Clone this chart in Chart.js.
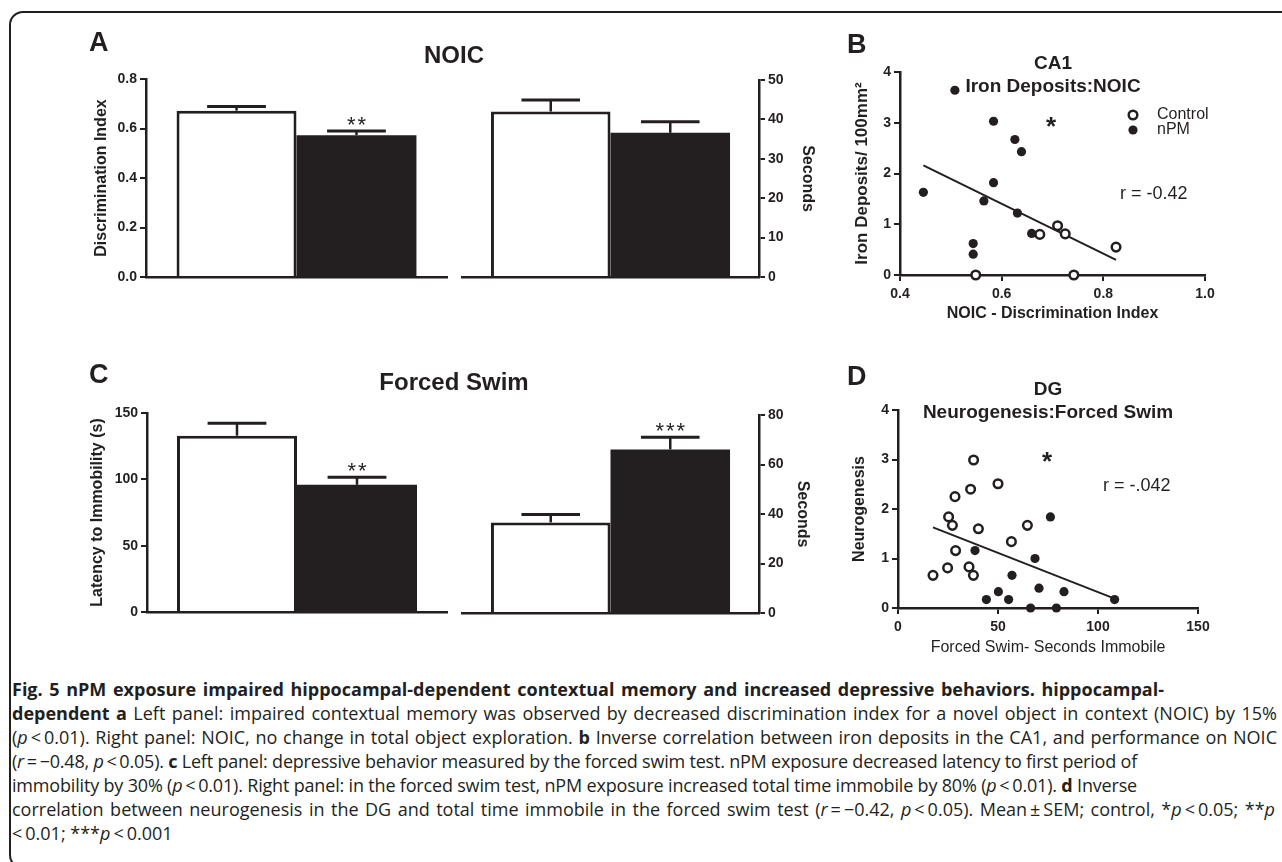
<!DOCTYPE html>
<html><head><meta charset="utf-8">
<script src="https://cdn.jsdelivr.net/npm/chart.js@4.4.1/dist/chart.umd.min.js"></script>
<style>
html,body{margin:0;padding:0;background:#fff;}
#page{position:relative;width:1282px;height:862px;overflow:hidden;font-family:'Liberation Sans',Arial,sans-serif;color:#231f20;}
#frame{position:absolute;left:9px;top:11px;width:1300px;height:858px;border:2.5px solid #231f20;border-radius:14px;box-sizing:border-box;}
canvas{position:absolute;}
.t{position:absolute;transform:translate(-50%,-50%);white-space:nowrap;line-height:1;}
.l{position:absolute;white-space:nowrap;line-height:1;transform:translateY(-50%);}
.b{font-weight:bold;}
.cap{position:absolute;left:12px;white-space:nowrap;font-family:'Open Sans',sans-serif;font-size:18px;line-height:24px;color:#231f20;}
</style></head>
<body><div id="page">
<div id="frame"></div>
<canvas id="cA1" width="430" height="260" style="left:40px;top:40px"></canvas>
<canvas id="cA2" width="400" height="260" style="left:450px;top:40px"></canvas>
<canvas id="cB" width="440" height="290" style="left:820px;top:40px"></canvas>
<canvas id="cC1" width="430" height="262" style="left:40px;top:370px"></canvas>
<canvas id="cC2" width="400" height="262" style="left:450px;top:370px"></canvas>
<canvas id="cD" width="440" height="290" style="left:820px;top:370px"></canvas>

<div class="l b" style="left:89px;top:42px;font-size:27px">A</div>
<div class="t b" style="left:454px;top:55px;font-size:24px">NOIC</div>
<div class="l b" style="left:847px;top:44px;font-size:27px">B</div>
<div class="t b" style="left:1053px;top:62px;font-size:19px">CA1</div>
<div class="t b" style="left:1053px;top:85px;font-size:19px">Iron Deposits:NOIC</div>
<div class="t b" style="left:1051px;top:126px;font-size:26px">*</div>
<div class="l" style="left:1120px;top:193px;font-size:18px">r = -0.42</div>

<div class="l b" style="left:89px;top:374px;font-size:27px">C</div>
<div class="t b" style="left:454px;top:382px;font-size:24px">Forced Swim</div>
<div class="l b" style="left:847px;top:376px;font-size:27px">D</div>
<div class="t b" style="left:1048px;top:388px;font-size:19px">DG</div>
<div class="t b" style="left:1048px;top:411px;font-size:19px">Neurogenesis:Forced Swim</div>
<div class="t b" style="left:1047px;top:461px;font-size:26px">*</div>
<div class="l" style="left:1103px;top:485px;font-size:18px">r = -.042</div>

<div class="cap" data-w="1152" style="top:677px"><b>Fig. 5 nPM exposure impaired hippocampal-dependent contextual memory and increased depressive behaviors. hippocampal-</b></div>
<div class="cap" data-w="1265" style="top:701px"><b>dependent a</b> Left panel: impaired contextual memory was observed by decreased discrimination index for a novel object in context (NOIC) by 15%</div>
<div class="cap" data-w="1265" style="top:725px">(<i>p</i>&#8201;&lt;&#8201;0.01). Right panel: NOIC, no change in total object exploration. <b>b</b> Inverse correlation between iron deposits in the CA1, and performance on NOIC</div>
<div class="cap" data-w="1125" style="top:749px">(<i>r</i>&#8201;=&#8201;−0.48, <i>p</i>&#8201;&lt;&#8201;0.05). <b>c</b> Left panel: depressive behavior measured by the forced swim test. nPM exposure decreased latency to first period of</div>
<div class="cap" data-w="1125" style="top:773px">immobility by 30% (<i>p</i>&#8201;&lt;&#8201;0.01). Right panel: in the forced swim test, nPM exposure increased total time immobile by 80% (<i>p</i>&#8201;&lt;&#8201;0.01). <b>d</b> Inverse</div>
<div class="cap" data-w="1263" style="top:797px">correlation between neurogenesis in the DG and total time immobile in the forced swim test (<i>r</i>&#8201;=&#8201;−0.42, <i>p</i>&#8201;&lt;&#8201;0.05). Mean&#8201;±&#8201;SEM; control, *<i>p</i>&#8201;&lt;&#8201;0.05; **<i>p</i></div>
<div class="cap" style="top:821px">&lt;&#8201;0.01; ***<i>p</i>&#8201;&lt;&#8201;0.001</div>
</div>
<script>
// ---------- DATA ----------
const groups = ['Control', 'nPM'];
// Panel A – NOIC
const noicDiscrimination = [0.672, 0.573];
const noicDiscriminationSem = [0.017, 0.017];
const noicDiscriminationSig = ['', '**'];
const noicExploreSeconds = [42.0, 36.6];
const noicExploreSem = [2.9, 2.8];
const noicExploreSig = ['', ''];
// Panel C – Forced swim
const swimLatency = [132.9, 95.9];
const swimLatencySem = [9.3, 5.6];
const swimLatencySig = ['', '**'];
const swimImmobileSeconds = [36.6, 66.1];
const swimImmobileSem = [3.2, 4.9];
const swimImmobileSig = ['', '***'];
// Panel B – CA1 iron deposits vs NOIC discrimination index
const ironCtrlX = [0.675, 0.710, 0.725, 0.825, 0.549, 0.742];
const ironCtrlY = [0.80, 0.97, 0.81, 0.55, 0.00, 0.00];
const ironNpmX = [0.508, 0.584, 0.626, 0.639, 0.584, 0.446, 0.565, 0.631, 0.659, 0.544, 0.544];
const ironNpmY = [3.64, 3.03, 2.67, 2.43, 1.82, 1.63, 1.46, 1.22, 0.82, 0.62, 0.41];
const ironFitX = [0.446, 0.825];
const ironFitY = [2.16, 0.30];
// Panel D – DG neurogenesis vs forced swim seconds immobile
const neuroCtrlX = [37.8, 50.0, 36.3, 28.5, 25.3, 27.2, 40.2, 64.7, 56.7, 28.8, 17.5, 24.8, 35.5, 37.7];
const neuroCtrlY = [2.99, 2.51, 2.40, 2.25, 1.84, 1.67, 1.60, 1.67, 1.34, 1.16, 0.66, 0.81, 0.83, 0.66];
const neuroNpmX = [76.2, 38.5, 68.5, 57.0, 70.5, 83.0, 50.2, 44.2, 55.3, 108.3, 66.3, 79.2];
const neuroNpmY = [1.84, 1.16, 1.00, 0.66, 0.40, 0.33, 0.33, 0.17, 0.17, 0.17, 0.00, 0.00];
const neuroFitX = [17.5, 108.3];
const neuroFitY = [1.63, 0.19];
// Tick values / labels
const ticksDI = [0, 0.2, 0.4, 0.6, 0.8];
const ticksDILabels = ['0.0', '0.2', '0.4', '0.6', '0.8'];
const ticksSec50 = [0, 10, 20, 30, 40, 50];
const ticksLatency = [0, 50, 100, 150];
const ticksSec80 = [0, 20, 40, 60, 80];
const ticksIronY = [0, 1, 2, 3, 4];
const ticksIronX = [0.4, 0.6, 0.8, 1.0];
const ticksIronXLabels = ['0.4', '0.6', '0.8', '1.0'];
const ticksNeuroY = [0, 1, 2, 3, 4];
const ticksNeuroX = [0, 50, 100, 150];

// ---------- STYLE ----------
const INK = '#231f20';
const FAM = "'Liberation Sans', Arial, Helvetica, sans-serif";
const TICK_FONT = {family: FAM, size: 14, weight: 'bold'};
const TITLE_FONT = {family: FAM, size: 16, weight: 'bold'};
Chart.defaults.font.family = FAM;
Chart.defaults.color = INK;

const zip = (xs, ys) => xs.map((x, i) => ({x, y: ys[i]}));

function valueAxis(position, min, max, ticks, labels, size, title, titlePad, titleFont) {
  const horiz = position === 'bottom';
  return {
    type: 'linear', position, min, max,
    afterBuildTicks: s => { s.ticks = ticks.map(v => ({value: v})); },
    afterFit: s => { if (horiz) s.height = size; else s.width = size; },
    ticks: {callback: (v, i) => labels ? labels[i] : String(ticks[i]), font: TICK_FONT, color: INK, padding: horiz ? 5 : 3, maxRotation: 0, autoSkip: false},
    grid: {display: true, drawOnChartArea: false, drawTicks: true, tickLength: 6, color: INK, lineWidth: 2},
    border: {display: true, color: INK, width: 2.5},
    title: {display: true, text: title, font: titleFont || TITLE_FONT, color: INK,
            padding: horiz ? {top: 0, bottom: titlePad} : {top: titlePad, bottom: 0}}
  };
}

const errBars = {
  id: 'errbars',
  afterDatasetsDraw(chart, args, o) {
    if (!o || !o.sem) return;
    const ctx = chart.ctx, ys = chart.scales.y;
    chart.data.datasets.forEach((ds, i) => {
      const bar = chart.getDatasetMeta(i).data[0];
      const top = ys.getPixelForValue(ds.data[0] + o.sem[i]);
      const w = bar.width * 0.49;
      ctx.save();
      ctx.strokeStyle = INK; ctx.lineCap = 'butt';
      ctx.lineWidth = 2.5;
      ctx.beginPath(); ctx.moveTo(bar.x, bar.y); ctx.lineTo(bar.x, top); ctx.stroke();
      ctx.lineWidth = 3;
      ctx.beginPath(); ctx.moveTo(bar.x - w / 2, top); ctx.lineTo(bar.x + w / 2, top); ctx.stroke();
      if (o.sig && o.sig[i]) {
        ctx.fillStyle = INK; ctx.font = '22px ' + FAM;
        ctx.textAlign = 'center'; ctx.textBaseline = 'alphabetic';
        ctx.fillText(o.sig[i].split('').join('\u200A'), bar.x, top + 1);
      }
      ctx.restore();
    });
  }
};

const insetLegend = {
  id: 'insetLegend',
  afterDraw(chart, args, o) {
    if (!o || !o.items) return;
    const ctx = chart.ctx, a = chart.chartArea;
    o.items.forEach((dsIndex, k) => {
      const ds = chart.data.datasets[dsIndex];
      const x = a.left + o.x, y = a.top + o.y + k * o.gap;
      ctx.save();
      ctx.beginPath(); ctx.arc(x, y, ds.pointRadius, 0, Math.PI * 2);
      ctx.fillStyle = ds.backgroundColor; ctx.fill();
      if (ds.borderWidth) { ctx.lineWidth = ds.borderWidth; ctx.strokeStyle = ds.borderColor; ctx.stroke(); }
      ctx.fillStyle = INK; ctx.font = '16px ' + FAM; ctx.textBaseline = 'middle'; ctx.textAlign = 'left';
      ctx.fillText(ds.label, x + o.textDx, y);
      ctx.restore();
    });
  }
};

function barChart(id, values, sem, sig, yAxisCfg, pad, catPct) {
  return new Chart(document.getElementById(id), {
    type: 'bar',
    data: {
      labels: [''],
      datasets: [
        {label: groups[0], data: [values[0]], backgroundColor: '#ffffff', borderColor: INK, borderWidth: 3, borderSkipped: 'start'},
        {label: groups[1], data: [values[1]], backgroundColor: INK, borderColor: INK, borderWidth: 0}
      ]
    },
    options: {
      responsive: false, animation: false, devicePixelRatio: 1,
      layout: {padding: pad},
      datasets: {bar: {categoryPercentage: catPct, barPercentage: 1, grouped: true}},
      scales: {
        x: {type: 'category', offset: true, ticks: {display: false}, grid: {display: false},
            border: {display: true, color: INK, width: 2.5}, afterFit: s => { s.height = 0; }},
        y: yAxisCfg
      },
      plugins: {legend: {display: false}, tooltip: {enabled: false}, errbars: {sem, sig}}
    },
    plugins: [errBars]
  });
}

function scatterChart(id, ctrl, npm, fit, xCfg, yCfg, pad, legendOpts) {
  return new Chart(document.getElementById(id), {
    type: 'scatter',
    data: {
      datasets: [
        {label: 'Control', data: ctrl, pointRadius: 4.3, borderWidth: 2.5, backgroundColor: '#ffffff', borderColor: INK, pointHoverRadius: 4.3, clip: false},
        {label: 'nPM', data: npm, pointRadius: 4.6, borderWidth: 0, backgroundColor: INK, borderColor: INK, pointHoverRadius: 4.6, clip: false},
        {label: 'fit', data: fit, showLine: true, pointRadius: 0, borderColor: INK, borderWidth: 2, backgroundColor: INK, clip: false}
      ]
    },
    options: {
      responsive: false, animation: false, devicePixelRatio: 1,
      layout: {padding: pad},
      scales: {x: xCfg, y: yCfg},
      plugins: {legend: {display: false}, tooltip: {enabled: false}, insetLegend: legendOpts || {}}
    },
    plugins: [insetLegend]
  });
}

// Panel A
barChart('cA1', noicDiscrimination, noicDiscriminationSem, noicDiscriminationSig,
  valueAxis('left', 0, 0.8, ticksDI, ticksDILabels, 106, 'Discrimination Index', 52),
  {top: 39, right: 23, bottom: 23, left: 0}, 0.797);
barChart('cA2', noicExploreSeconds, noicExploreSem, noicExploreSig,
  valueAxis('right', 0, 50, ticksSec50, null, 91, 'Seconds', 33),
  {top: 40, right: 0, bottom: 23, left: 12}, 0.805);
// Panel C
barChart('cC1', swimLatency, swimLatencySem, swimLatencySig,
  valueAxis('left', 0, 150, ticksLatency, null, 107, 'Latency to Immobility (s)', 48),
  {top: 43, right: 23, bottom: 20, left: 0}, 0.8);
barChart('cC2', swimImmobileSeconds, swimImmobileSem, swimImmobileSig,
  valueAxis('right', 0, 80, ticksSec80, null, 91, 'Seconds', 38),
  {top: 45, right: 0, bottom: 19, left: 12}, 0.805);
// Panel B
scatterChart('cB', zip(ironCtrlX, ironCtrlY), zip(ironNpmX, ironNpmY), zip(ironFitX, ironFitY),
  valueAxis('bottom', 0.4, 1.0, ticksIronX, ticksIronXLabels, 55, 'NOIC - Discrimination Index', 7),
  valueAxis('left', 0, 4, ticksIronY, null, 80, 'Iron Deposits/ 100mm²', 32, {family: FAM, size: 17, weight: 'bold'}),
  {top: 32, right: 55, bottom: 0, left: 0},
  {items: [0, 1], x: 233, y: 43, gap: 15, textDx: 24});
// Panel D
scatterChart('cD', zip(neuroCtrlX, neuroCtrlY), zip(neuroNpmX, neuroNpmY), zip(neuroFitX, neuroFitY),
  valueAxis('bottom', 0, 150, ticksNeuroX, null, 52, 'Forced Swim- Seconds Immobile', 3, {family: FAM, size: 16, weight: 'normal'}),
  valueAxis('left', 0, 4, ticksNeuroY, null, 78, 'Neurogenesis', 30),
  {top: 40, right: 62, bottom: 0, left: 0}, null);

// caption fitting: stretch with word spacing, or tighten letter spacing if too wide
document.fonts.ready.then(() => {
  document.querySelectorAll('.cap[data-w]').forEach(el => {
    const target = +el.dataset.w;
    const natural = el.getBoundingClientRect().width;
    const spaces = (el.textContent.match(/ /g) || []).length;
    if (natural <= target) {
      if (spaces) el.style.wordSpacing = ((target - natural) / spaces) + 'px';
    } else {
      const chars = el.textContent.length;
      el.style.letterSpacing = ((target - natural) / chars) + 'px';
    }
  });
});
</script>
</body></html>
